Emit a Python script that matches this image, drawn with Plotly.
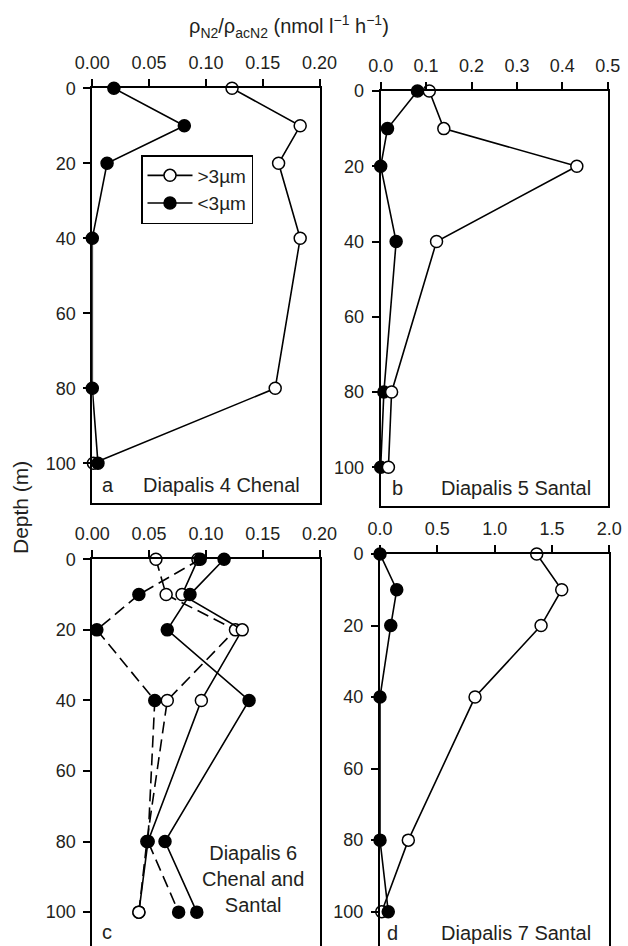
import plotly.graph_objects as go

# ---------------- data ----------------
depth = [0, 10, 20, 40, 80, 100]

a_gt3 = [0.123, 0.183, 0.164, 0.183, 0.161, 0.001]
a_lt3 = [0.019, 0.081, 0.013, 0.0, 0.0, 0.005]

b_gt3 = [0.107, 0.139, 0.432, 0.123, 0.024, 0.017]
b_lt3 = [0.081, 0.015, 0.0, 0.034, 0.007, 0.0]

c_gt3_solid = [0.093, 0.079, 0.132, 0.096, 0.049, 0.041]
c_gt3_dash = [0.056, 0.065, 0.126, 0.066, 0.048, 0.041]
c_lt3_solid = [0.116, 0.086, 0.066, 0.138, 0.064, 0.092]
c_lt3_dash = [0.095, 0.041, 0.004, 0.055, 0.049, 0.076]

d_gt3 = [1.367, 1.585, 1.405, 0.829, 0.247, 0.015]
d_lt3 = [0.0, 0.146, 0.094, 0.0, 0.0, 0.072]

ticks_ac = [0, 0.05, 0.10, 0.15, 0.20]
ticks_ac_txt = ["0.00", "0.05", "0.10", "0.15", "0.20"]
ticks_b = [0, 0.1, 0.2, 0.3, 0.4, 0.5]
ticks_b_txt = ["0.0", "0.1", "0.2", "0.3", "0.4", "0.5"]
ticks_d = [0, 0.5, 1.0, 1.5, 2.0]
ticks_d_txt = ["0.0", "0.5", "1.0", "1.5", "2.0"]
depth_ticks = [0, 20, 40, 60, 80, 100]

W, H = 628, 946
FONT = "Liberation Sans, Arial, Helvetica, sans-serif"
TXT = "#231f20"

fig = go.Figure()


def add(x, xa, ya, filled, dash="solid", name=None, legend=False):
    fig.add_trace(go.Scatter(
        x=x, y=depth, xaxis=xa, yaxis=ya, mode="lines+markers",
        name=name, showlegend=legend, cliponaxis=False,
        line=dict(color="black", width=1.6, dash=dash),
        marker=dict(size=12, color="black" if filled else "white",
                    line=dict(color="black", width=1.5)),
    ))


DASH = "12px,6px"
# panel a
add(a_gt3, "x", "y", False, name=">3µm", legend=True)
add(a_lt3, "x", "y", True, name="<3µm", legend=True)
# panel b
add(b_lt3, "x2", "y2", True)
add(b_gt3, "x2", "y2", False)
# panel c
add(c_gt3_dash, "x3", "y3", False, dash=DASH)
add(c_gt3_solid, "x3", "y3", False)
add(c_lt3_dash, "x3", "y3", True, dash=DASH)
add(c_lt3_solid, "x3", "y3", True)
# panel d
add(d_gt3, "x4", "y4", False)
add(d_lt3, "x4", "y4", True)


def px_x(p):
    return p / W


def px_y(p):
    return 1 - p / H


def xax(dom, rng, tv, tt, anchor, mirror):
    return dict(domain=dom, range=rng, side="top", anchor=anchor,
                tickvals=tv, ticktext=tt, ticks="outside", ticklen=7,
                tickwidth=1.5, tickcolor="black", showline=True,
                linecolor="black", linewidth=2, mirror=mirror,
                showgrid=False, zeroline=False, fixedrange=True,
                automargin=False, ticklabelstandoff=3,
                tickfont=dict(family=FONT, size=18, color=TXT))


def yax(dom, rng, anchor):
    return dict(domain=dom, range=rng, anchor=anchor, tickvals=depth_ticks,
                ticks="outside", ticklen=7, tickwidth=1.5, tickcolor="black",
                showline=True, linecolor="black", linewidth=2, mirror=True,
                showgrid=False, zeroline=False, fixedrange=True,
                automargin=False, ticklabelstandoff=4,
                tickfont=dict(family=FONT, size=18, color=TXT))


fig.update_layout(
    width=W, height=H, margin=dict(l=0, r=0, t=0, b=0, autoexpand=False),
    paper_bgcolor="white", plot_bgcolor="white",
    font=dict(family=FONT, color=TXT),
    xaxis=xax([px_x(92.3), px_x(319.5)], [0, 0.2], ticks_ac, ticks_ac_txt, "y", True),
    yaxis=yax([px_y(502.7), px_y(88.3)], [110.5, 0], "x"),
    xaxis2=xax([px_x(380.7), px_x(607.7)], [0, 0.5], ticks_b, ticks_b_txt, "y2", True),
    yaxis2=yax([px_y(506), px_y(91)], [110.3, 0], "x2"),
    xaxis3=xax([px_x(92.3), px_x(319.5)], [0, 0.2], ticks_ac, ticks_ac_txt, "y3", False),
    yaxis3=yax([0, px_y(559.3)], [109.6, 0], "x3"),
    xaxis4=xax([px_x(380), px_x(609.3)], [0, 2], ticks_d, ticks_d_txt, "y4", False),
    yaxis4=yax([0, px_y(554)], [109.6, 0], "x4"),
    legend=dict(x=px_x(141), y=px_y(155), xanchor="left", yanchor="top",
                bordercolor="black", borderwidth=1.5, bgcolor="white",
                font=dict(family=FONT, size=19, color=TXT),
                itemwidth=45, tracegroupgap=0),
)

ann = [
    ("ρ<sub>N2</sub>/ρ<sub>acN2</sub> (nmol l<sup>−1</sup> h<sup>−1</sup>)", 288.5, 27, 20, "center", 0),
    ("Depth (m)", 20, 508, 21, "center", -90),
    ("a", 107.7, 485, 20, "center", 0),
    ("Diapalis 4 Chenal", 221, 485, 20, "center", 0),
    ("b", 397.3, 488, 20, "center", 0),
    ("Diapalis 5 Santal", 515.5, 488, 20, "center", 0),
    ("c", 106.7, 931.7, 20, "center", 0),
    ("Diapalis 6<br>Chenal and<br>Santal", 252.7, 878.5, 20, "center", 0),
    ("d", 392.7, 933.3, 20, "center", 0),
    ("Diapalis 7 Santal", 516, 933.3, 20, "center", 0),
]
for text, x, y, size, align, ang in ann:
    fig.add_annotation(text=text, x=px_x(x), y=px_y(y), xref="paper", yref="paper",
                       showarrow=False, xanchor="center", yanchor="middle",
                       align=align, textangle=ang,
                       font=dict(family=FONT, size=size, color=TXT))

fig.write_html("out.html")
